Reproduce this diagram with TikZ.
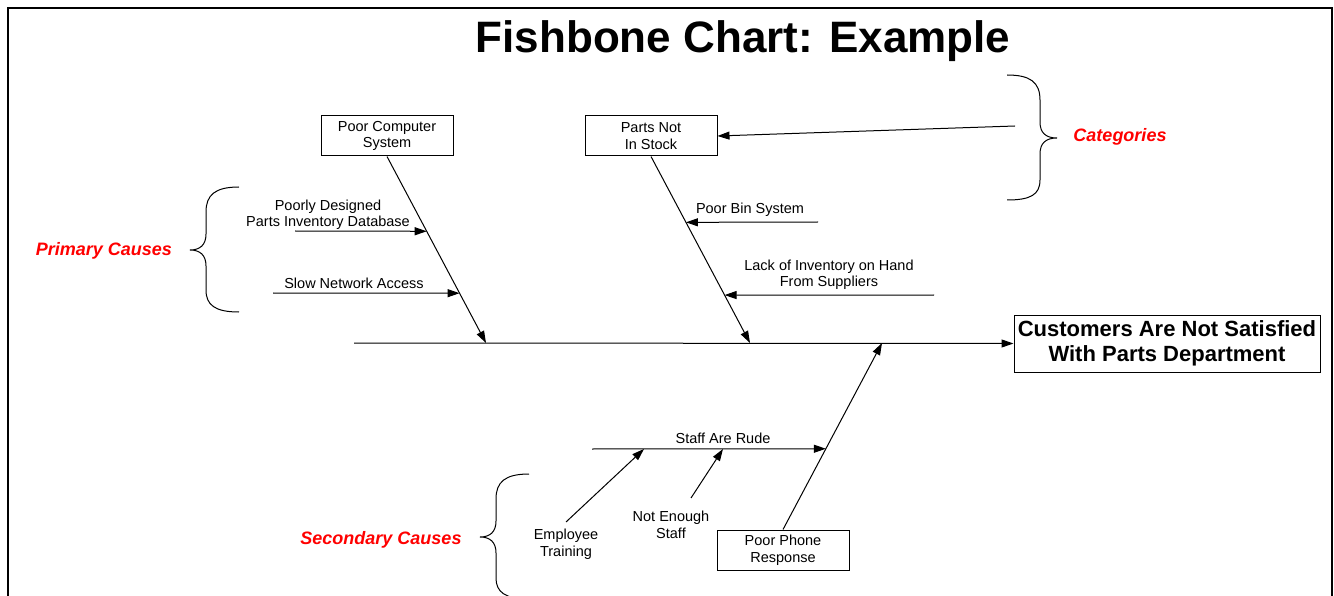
\documentclass[tikz,border=0pt]{standalone}
\usepackage{fontspec}
\setmainfont{Liberation Sans}
\usetikzlibrary{arrows.meta,calc}
\begin{document}
\begin{tikzpicture}[x=1pt,y=-1pt,
  txt/.style={font=\fontsize{14.5}{16.5}\selectfont, align=center, inner sep=0pt, yshift=-2pt},
  catbox/.style={draw, line width=1pt, minimum width=132pt, minimum height=40pt, inner sep=0pt, align=center, font=\fontsize{14.5}{16.5}\selectfont},
  redlbl/.style={text=red, font=\fontsize{18}{20}\selectfont\bfseries\itshape, inner sep=0pt, yshift=-2pt},
  arr/.style={line width=1pt, -{Triangle[length=12pt,width=8pt]}},
  bone/.style={line width=1pt},
  brace/.style={line width=1pt}]
\useasboundingbox (0,0) rectangle (1334,596);
\clip (0,0) rectangle (1334,596);
% frame
\draw[line width=2pt] (8,620) -- (8,8) -- (1332,8) -- (1332,620);
% title
\node[anchor=base, inner sep=0pt, font=\fontsize{44}{48}\selectfont\bfseries] (title) at (743,53) {Fishbone Chart: Example};
% category boxes
\node[catbox] (pcs) at (387,136) {Poor Computer\\System};
\node[catbox] (pns) at (651,136) {Parts Not\\In Stock};
\node[catbox] (ppr) at (783,550) {Poor Phone\\Response};
% effect
\node[draw, line width=1pt, minimum width=306pt, minimum height=57pt, inner sep=0pt, align=center, font=\fontsize{22}{25}\selectfont\bfseries] (eff) at (1167,343.5) {Customers Are Not Satisfied\\With Parts Department};
% spine
\coordinate (tail) at (354,343);
\draw[arr] (tail) -- (eff.west);
% bones
\coordinate (h1) at (486,343);
\coordinate (h2) at (750,343);
\coordinate (h3) at (882,343);
\draw[arr] (pcs.south) -- (h1);
\draw[arr] (pns.south) -- (h2);
\draw[arr] (ppr.north) -- (h3);
% sub-cause arrows on bone 1
\coordinate (s1) at (295,231);
\coordinate (t1) at ($(pcs.south)!0.401!(h1)$);
\draw[arr] (s1) -- (t1);
\node[txt] (l1) at (328,213) {Poorly Designed\\Parts Inventory Database};
\coordinate (s2) at (273,293);
\coordinate (t2) at ($(pcs.south)!0.733!(h1)$);
\draw[arr] (s2) -- (t2);
\node[txt] (l2) at (354,281) {Slow Network Access};
% sub-cause arrows on bone 2
\coordinate (s3) at (818,222);
\coordinate (t3) at ($(pns.south)!0.353!(h2)$);
\draw[arr] (s3) -- (t3);
\node[txt] (l3) at (750,208) {Poor Bin System};
\coordinate (s4) at (934,295);
\coordinate (t4) at ($(pns.south)!0.743!(h2)$);
\draw[arr] (s4) -- (t4);
\node[txt] (l4) at (829,273) {Lack of Inventory on Hand\\From Suppliers};
% bone 3 sub-cause
\coordinate (s5) at (592,449);
\coordinate (t5) at ($(ppr.north)!0.433!(h3)$);
\draw[arr] (s5) -- (t5);
\node[txt] (l5) at (723,436) {Staff Are Rude};
\coordinate (s6) at (566,522);
\coordinate (t6) at (644,449);
\draw[arr] (s6) -- (t6);
\node[txt] (l6) at (566,542) {Employee\\Training};
\coordinate (s7) at (691,498);
\coordinate (t7) at (723,449);
\draw[arr] (s7) -- (t7);
\node[txt] (l7) at (671,523) {Not Enough\\Staff};
% categories arrow
\coordinate (c0) at (1015,126);
\draw[arr] (c0) -- (pns.east);
% braces
\draw[brace] (1007,75) .. controls (1030,75) and (1040,82) .. (1040,100) -- (1040,122)
  .. controls (1040,133) and (1046,138) .. (1057,138)
  .. controls (1046,138) and (1040,143) .. (1040,154) -- (1040,180)
  .. controls (1040,195) and (1030,200) .. (1007,200);
\draw[brace] (239,187) .. controls (215,187) and (206,195) .. (206,212) -- (206,234)
  .. controls (206,245) and (200,250) .. (190,250)
  .. controls (200,250) and (206,255) .. (206,266) -- (206,290)
  .. controls (206,305) and (215,312) .. (239,312);
\draw[brace] (529,474) .. controls (505,474) and (496,482) .. (496,499) -- (496,521)
  .. controls (496,532) and (490,537) .. (480,537)
  .. controls (490,537) and (496,542) .. (496,553) -- (496,578)
  .. controls (496,592) and (505,599) .. (529,599);
% red labels
\node[redlbl] (prim) at (104,249) {Primary Causes};
\node[redlbl] (cat) at (1120,135) {Categories};
\node[redlbl] (sec) at (381,538) {Secondary Causes};
\end{tikzpicture}
\end{document}
